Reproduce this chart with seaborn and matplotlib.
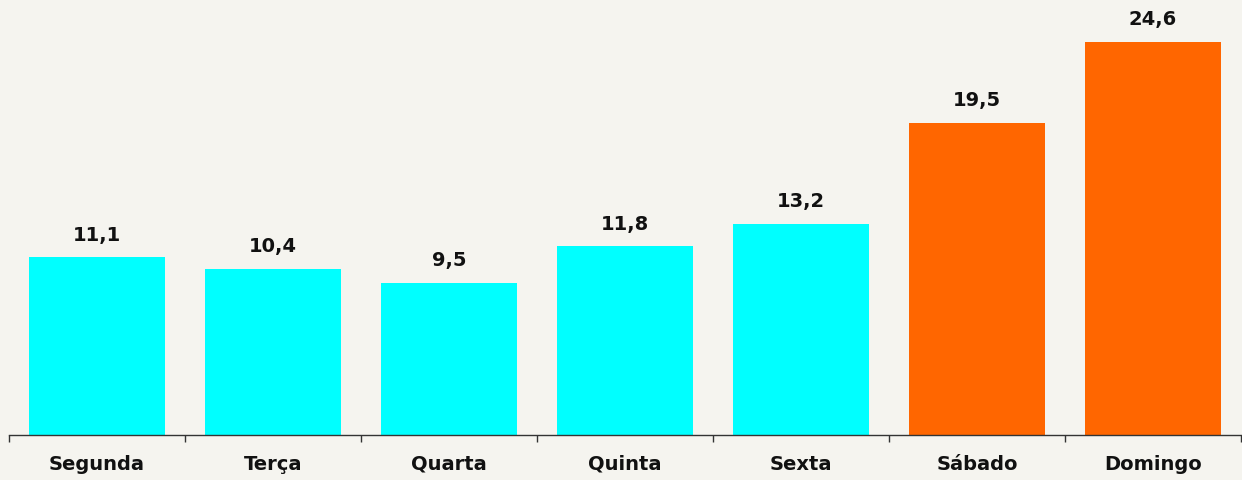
import matplotlib
matplotlib.use("Agg")
import matplotlib.pyplot as plt
import seaborn as sns
import numpy as np
import pandas as pd

# Data
days = ["Segunda", "Terça", "Quarta", "Quinta", "Sexta", "Sábado", "Domingo"]
values = [11.1, 10.4, 9.5, 11.8, 13.2, 19.5, 24.6]
groups = ["semana", "semana", "semana", "semana", "semana", "fim", "fim"]
labels = ["11,1", "10,4", "9,5", "11,8", "13,2", "19,5", "24,6"]

df = pd.DataFrame({"dia": days, "valor": values, "grupo": groups})

bg = "#F5F4EF"
sns.set_style("white")
plt.rcParams["font.family"] = ["DejaVu Sans"]

fig = plt.figure(figsize=(12.42, 4.8), dpi=100, facecolor=bg)
ax = fig.add_axes([9 / 1242, 45 / 480, 1232 / 1242, 435 / 480])
ax.set_facecolor(bg)

sns.barplot(data=df, x="dia", y="valor", hue="grupo", dodge=False,
            palette={"semana": "#00FFFF", "fim": "#FF6600"},
            width=0.77, legend=False, ax=ax, saturation=1, linewidth=0)

# value labels above the bars
for i, (v, lab) in enumerate(zip(values, labels)):
    ax.annotate(lab, (i, v), xytext=(0, 12), textcoords="offset points",
                ha="center", va="baseline", fontsize=14, fontweight="bold",
                color="#111111")

ax.set_xlim(-0.5, len(days) - 0.5)
ax.set_ylim(0, 27.2)
ax.set_xlabel("")
ax.set_ylabel("")
ax.set_yticks([])

# tick marks at category boundaries, labels at centers
ax.set_xticks(np.arange(-0.5, len(days), 1.0))
ax.set_xticklabels([])
ax.tick_params(axis="x", which="major", direction="out", length=5,
               width=1, color="#333333", bottom=True)
ax.set_xticks(np.arange(len(days)), minor=True)
ax.set_xticklabels(days, minor=True, fontsize=14, fontweight="bold",
                   color="#111111")
ax.tick_params(axis="x", which="minor", length=0, pad=25)
for t in ax.get_xticklabels(minor=True):
    t.set_va("baseline")

for s in ["top", "right", "left"]:
    ax.spines[s].set_visible(False)
ax.spines["bottom"].set_color("#333333")
ax.spines["bottom"].set_linewidth(1)

fig.savefig("out.png", dpi=100, facecolor=bg)
